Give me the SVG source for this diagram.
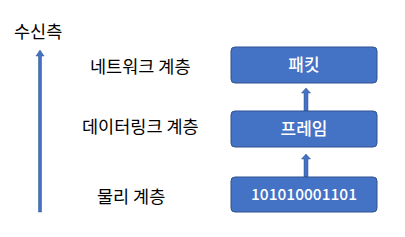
<svg xmlns="http://www.w3.org/2000/svg" width="405" height="237" viewBox="0 0 405 237">
<style>
.lbl{font-family:"Noto Sans CJK KR","Liberation Sans",sans-serif;font-size:17.5px;fill:#000}
.box{fill:#4472C4;stroke:#2F528F;stroke-width:1}
.bt{font-family:"Noto Sans CJK KR","Liberation Sans",sans-serif;font-size:17px;font-weight:500;fill:#fff;text-anchor:middle}
.num{font-size:15.5px}
.arr{fill:#4472C4;stroke:#2F528F;stroke-width:0.5}
</style>
<rect width="405" height="237" fill="#fff"/>
<g id="labels">
<text class="lbl" x="14" y="38">수신측</text>
<text class="lbl" x="90" y="73">네트워크 계층</text>
<text class="lbl" x="82" y="133">데이터링크 계층</text>
<text class="lbl" x="97" y="203">물리 계층</text>
</g>
<g id="connectors">
<path class="arr" d="M38.5,212 V56 H36 L40,50 L44,56 H41.5 V212 Z"/>
<path class="arr" d="M304,111 V93 H301.5 L306,88 L310.5,93 H308 V111 Z"/>
<path class="arr" d="M304,177 V159 H301.5 L306,154 L310.5,159 H308 V177 Z"/>
</g>
<g id="node-packet">
<rect class="box" x="231" y="47" width="146" height="36" rx="4"/>
<text class="bt" x="304" y="71">패킷</text>
</g>
<g id="node-frame">
<rect class="box" x="231" y="111" width="146" height="36" rx="4"/>
<text class="bt" x="304" y="135">프레임</text>
</g>
<g id="node-bits">
<rect class="box" x="231" y="177" width="146" height="35" rx="4"/>
<text class="bt num" x="304" y="200">101010001101</text>
</g>
</svg>
